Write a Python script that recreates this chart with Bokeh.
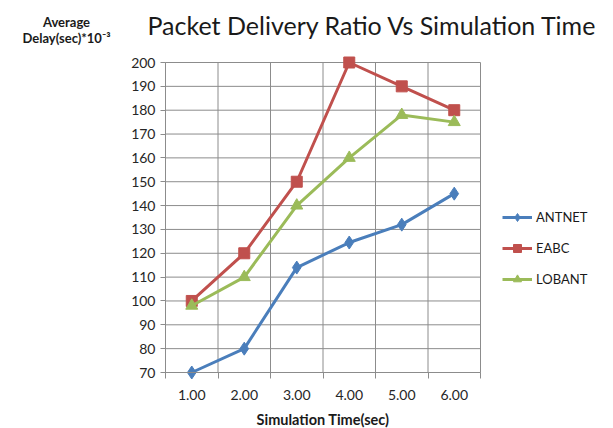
from bokeh.plotting import figure
from bokeh.models import FixedTicker, Legend, LegendItem, Range1d, Label, LinearAxis
from bokeh.embed import file_html
from bokeh.resources import INLINE

# Simulation time categories (x positions 1..6) and their labels
sim_times = [1, 2, 3, 4, 5, 6]
time_labels = ["1.00", "2.00", "3.00", "4.00", "5.00", "6.00"]

# Average delay (sec * 10^-3) per protocol
antnet = [70, 80, 114, 124.5, 132, 145]
eabc = [100, 120, 150, 200, 190, 180]
lobant = [98, 110, 140, 160, 178, 175]

y_ticks = list(range(70, 201, 10))

chart_title = "Packet Delivery Ratio Vs Simulation Time"
y_title = ["Average", "Delay(sec)*10\u207b\u00b3"]
x_title = "Simulation Time(sec)"

FONT = "Lato"
GRID = "#8c8c8c"
TEXT = "#1a1a1a"

W, H = 613, 428
# plot-area box on the canvas (px): left, right, top, bottom
PL, PR, PT, PB = 165, 480, 62, 372
X0, X1 = 0.5, 6.5
Y0, Y1 = 70, 200
xs = (PR - PL) / (X1 - X0)
ys = (PB - PT) / (Y1 - Y0)

p = figure(width=W, height=H, output_backend="svg", toolbar_location=None,
           x_range=Range1d(X0 - PL / xs, X1 + (W - PR) / xs),
           y_range=Range1d(Y0 - (H - PB) / ys, Y1 + PT / ys),
           x_axis_location=None, y_axis_location=None, min_border=0)
p.outline_line_color = None
p.grid.visible = False

boundaries = [X0 + i for i in range(7)]

# grid lines, limited to the plot box
p.segment(x0=[X0] * len(y_ticks), x1=[X1] * len(y_ticks), y0=y_ticks, y1=y_ticks,
          line_color=GRID, line_width=1)
p.segment(x0=boundaries, x1=boundaries, y0=[Y0] * 7, y1=[Y1] * 7,
          line_color=GRID, line_width=1)

# x axis: labels at category centres, tick marks at category boundaries
xaxis = LinearAxis(fixed_location=Y0, bounds=(X0, X1),
                   ticker=FixedTicker(ticks=sim_times, minor_ticks=boundaries))
xaxis.major_label_overrides = {t: l for t, l in zip(sim_times, time_labels)}
xaxis.major_tick_out = 0
xaxis.major_tick_in = 0
xaxis.minor_tick_out = 6
xaxis.minor_tick_in = 0
xaxis.minor_tick_line_color = GRID
xaxis.axis_line_color = GRID
xaxis.major_label_standoff = 11
xaxis.axis_label = x_title
xaxis.axis_label_text_font = FONT
xaxis.axis_label_text_font_style = "bold"
xaxis.axis_label_text_font_size = "14.5px"
xaxis.axis_label_text_color = TEXT
xaxis.axis_label_standoff = 8

yaxis = LinearAxis(fixed_location=X0, bounds=(Y0, Y1),
                   ticker=FixedTicker(ticks=y_ticks, minor_ticks=[]))
yaxis.major_tick_out = 5
yaxis.major_tick_in = 0
yaxis.major_tick_line_color = GRID
yaxis.axis_line_color = GRID
yaxis.major_label_standoff = 5

for ax in (xaxis, yaxis):
    ax.major_label_text_font = FONT
    ax.major_label_text_font_size = "14px"
    ax.major_label_text_color = "#262626"

p.add_layout(xaxis, "below")
p.add_layout(yaxis, "left")

series = [
    ("ANTNET", antnet, "#4a7ebb", "diamond", 13),
    ("EABC", eabc, "#c0504d", "square", 11),
    ("LOBANT", lobant, "#9bbb59", "triangle", 12),
]

items = []
for name, vals, color, marker, size in series:
    ln = p.line(sim_times, vals, line_color=color, line_width=3)
    sc = p.scatter(sim_times, vals, marker=marker, size=size,
                   fill_color=color, line_color=color)
    items.append(LegendItem(label=name, renderers=[ln, sc]))

legend = Legend(items=items, location=(502, 139), orientation="vertical",
                label_text_font=FONT, label_text_font_size="13px",
                label_text_color=TEXT, glyph_width=30, glyph_height=20,
                label_height=20, spacing=11,
                border_line_color=None, background_fill_alpha=0,
                label_standoff=4, padding=0, margin=0)
p.add_layout(legend, "center")

# chart title and the y-axis caption in the top strip
p.add_layout(Label(x=147, y=H - 24, x_units="screen", y_units="screen",
                   text=chart_title, text_font=FONT, text_font_size="25px",
                   text_color=TEXT, text_baseline="alphabetic"))
for txt, base in zip(y_title, (21, 37)):
    p.add_layout(Label(x=66, y=H - base, x_units="screen", y_units="screen",
                       text=txt, text_font=FONT, text_font_style="bold",
                       text_font_size="13px", text_color=TEXT,
                       text_align="center", text_baseline="alphabetic"))

open("out.html", "w").write(file_html(p, INLINE))
